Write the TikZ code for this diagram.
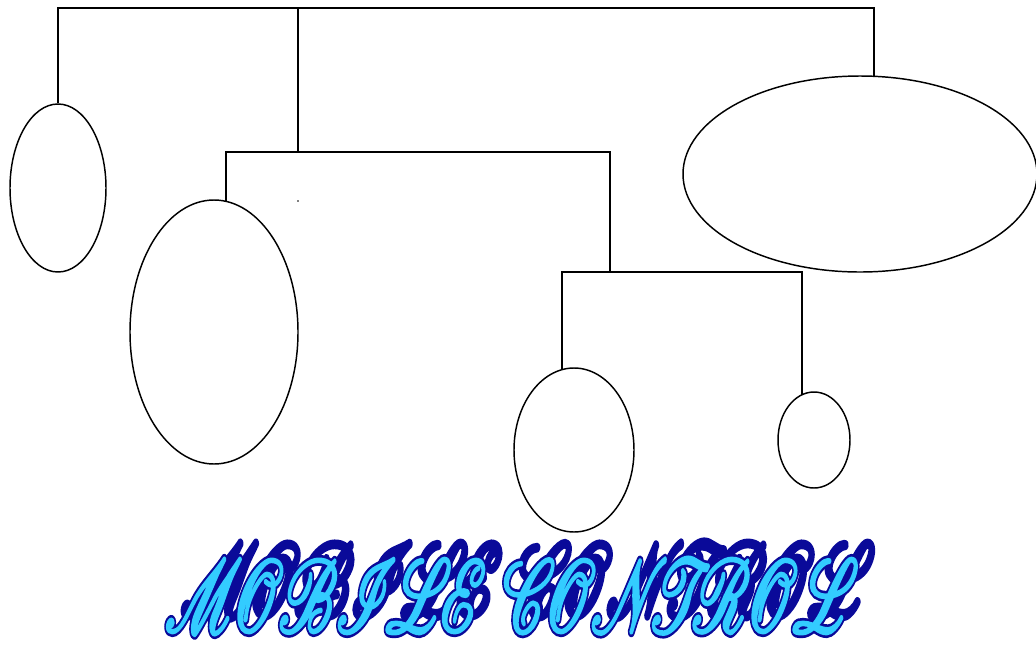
\documentclass[tikz,border=0pt]{standalone}
\usetikzlibrary{shapes.geometric}
\definecolor{deepblue}{RGB}{10,10,150}
\definecolor{skyblue}{RGB}{50,200,255}
\newcommand\scrfont{\usefont{U}{rsfs}{m}{n}}
\newcommand\tubeS{\special{pdf:literal 0.04 0.04 0.6 rg 0.04 0.04 0.6 RG 1.8 w 1 j 1 J 2 Tr}}
\newcommand\tubeA{\special{pdf:literal 0.04 0.04 0.6 rg 0.04 0.04 0.6 RG 2.1 w 1 j 1 J 2 Tr}}
\newcommand\tubeB{\special{pdf:literal 0.2 0.8 1 rg 0.2 0.8 1 RG 0.8 w 1 j 1 J 2 Tr}}
\newcommand\tubeEnd{\special{pdf:literal 0 Tr}}
\newcommand\titletext{MOBILE\hspace{0.45em}CONTROL}
\tikzset{
  wire/.style={draw=black, line width=1.1pt},
  bob/.style={ellipse, draw=black, line width=1.1pt, inner sep=0pt},
  title/.style={inner sep=0pt, font=\fontsize{30}{34}\scrfont, xscale=1.88, yscale=3.1, transform shape}
}
\begin{document}
\begin{tikzpicture}[x=0.75pt,y=-0.75pt]
\useasboundingbox (0,0) rectangle (1036,665);
% bobs
\node[bob, minimum width=96*0.75pt, minimum height=168*0.75pt] (e1) at (58,188) {};
\node[bob, minimum width=354*0.75pt, minimum height=196*0.75pt] (e5) at (860,174) {};
\node[bob, minimum width=168*0.75pt, minimum height=264*0.75pt] (e2) at (214,332) {};
\node[bob, minimum width=120*0.75pt, minimum height=164*0.75pt] (e3) at (574,450) {};
\node[bob, minimum width=72*0.75pt, minimum height=96*0.75pt] (e4) at (814,440) {};
% joints
\coordinate (t1) at (58,8);
\coordinate (t2) at (298,8);
\coordinate (t3) at (874,8);
\coordinate (m0) at (298,152);
\coordinate (m1) at (226,152);
\coordinate (m2) at (610,152);
\coordinate (b0) at (610,272);
\coordinate (b1) at (562,272);
\coordinate (b2) at (802,272);
\coordinate (e5top) at (874,76.5);
\coordinate (e2top) at (226,201.4);
\coordinate (e3top) at (562,368.9);
\coordinate (e4top) at (802,394.7);
% wires
\draw[wire] (e1.north) -- (t1) -- (t3) -- (e5top);
\draw[wire] (t2) -- (m0);
\draw[wire] (e2top) -- (m1) -- (m2) -- (b0);
\draw[wire] (e3top) -- (b1) -- (b2) -- (e4top);
\fill[black] (298,201) circle (0.9);
% title: shadow, outline, fill
\node[title] (sh) at (522,580) {\tubeS\titletext\tubeEnd};
\node[title] (to) at (506,596) {\tubeA\titletext\tubeEnd};
\node[title] (tt) at (506,596) {\tubeB\titletext\tubeEnd};
\end{tikzpicture}
\end{document}
